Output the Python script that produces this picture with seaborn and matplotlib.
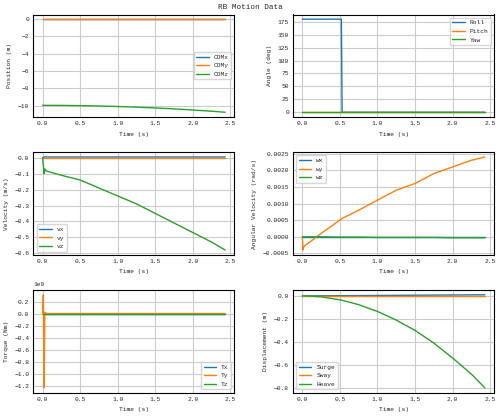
import matplotlib
matplotlib.use("Agg")
import matplotlib.pyplot as plt
from matplotlib.ticker import MaxNLocator
import seaborn as sns
import numpy as np
import pandas as pd

t = [0, 0.01, 0.02, 0.03, 0.04, 0.06, 0.1, 0.25, 0.5, 0.52, 0.53, 0.75, 1.0, 1.25, 1.5, 1.75, 2.0, 2.25, 2.43]
com_x = [0]*19
com_y = [0]*19
heave = [0, 0, 0, 0, 0, 0, -0.001, -0.008, -0.034, -0.036, -0.038, -0.076, -0.135, -0.21, -0.30, -0.41, -0.54, -0.68, -0.80]
com_z = [-9.95 + h for h in heave]
roll = [180]*10 + [0]*9
pitch = [0]*19
yaw = [0]*19
vx = [0, 0.002, 0.004, 0.005, 0.005, 0.005, 0.005, 0.005, 0.005, 0.005, 0.005, 0.005, 0.005, 0.005, 0.005, 0.005, 0.005, 0.005, 0.005]
vy = [0]*19
vz = [0, -0.05, -0.1, -0.07, -0.08, -0.085, -0.09, -0.11, -0.14, -0.145, -0.146, -0.19, -0.24, -0.29, -0.35, -0.41, -0.47, -0.53, -0.58]
wx = [0]*19
wy = [0, -0.0004, -0.0003, -0.00028, -0.00026, -0.00022, -0.00016, 0.0001, 0.0005, 0.00053, 0.00055, 0.0008, 0.0011, 0.0014, 0.0016, 0.0019, 0.0021, 0.0023, 0.0024]
wz = [0, 0, 0, 0, 0, 0, 0, 0, -0.00001, -0.00001, -0.00001, -0.00001, -0.00002, -0.00002, -0.00002, -0.00002, -0.00003, -0.00003, -0.00003]
tx = [0]*19
ty = [0, 0.32e9, -1.23e9, 0.03e9, 0.01e9, 0.01e9] + [0.008e9]*13
tz = [0]*19
surge = [0, 0, 0, 0, 0, 0, 0.0004, 0.001, 0.002, 0.002, 0.002, 0.003, 0.004, 0.005, 0.006, 0.007, 0.008, 0.009, 0.01]
sway = [0]*19

sns.set_style("whitegrid", {"axes.edgecolor": "black", "grid.color": "#cccccc"})
plt.rcParams['font.family'] = ['Liberation Mono', 'DejaVu Sans Mono']
plt.rcParams['font.size'] = 4.5

fig, axes = plt.subplots(3, 2, figsize=(5, 4.16), dpi=100)
fig.suptitle("RB Motion Data", fontsize=5.5, y=0.99)
pal = sns.color_palette("tab10")

panels = [
    (axes[0, 0], [("COMx", com_x), ("COMy", com_y), ("COMz", com_z)], "Position (m)", "center right"),
    (axes[0, 1], [("Roll", roll), ("Pitch", pitch), ("Yaw", yaw)], "Angle (deg)", "upper right"),
    (axes[1, 0], [("vx", vx), ("vy", vy), ("vz", vz)], "Velocity (m/s)", "lower left"),
    (axes[1, 1], [("wx", wx), ("wy", wy), ("wz", wz)], "Angular Velocity (rad/s)", "upper left"),
    (axes[2, 0], [("Tx", tx), ("Ty", ty), ("Tz", tz)], "Torque (Nm)", "lower right"),
    (axes[2, 1], [("Surge", surge), ("Sway", sway), ("Heave", heave)], "Displacement (m)", "lower left"),
]
for ax, series, ylab, loc in panels:
    for i, (name, vals) in enumerate(series):
        sns.lineplot(x=t, y=vals, ax=ax, color=pal[i], label=name, linewidth=1)
    ax.set_xlabel("Time (s)", fontsize=4.5)
    ax.set_ylabel(ylab, fontsize=4.5)
    ax.tick_params(labelsize=4.5, length=2, pad=1)
    ax.set_xticks([0, 0.5, 1.0, 1.5, 2.0, 2.5])
    ax.legend(loc=loc, fontsize=4.5)
    ax.yaxis.get_offset_text().set_fontsize(4.5)

axes[0, 1].set_yticks(range(0, 176, 25))
axes[1, 0].set_yticks([-0.6, -0.5, -0.4, -0.3, -0.2, -0.1, 0.0])
axes[2, 0].set_yticks([-1.2e9, -1.0e9, -0.8e9, -0.6e9, -0.4e9, -0.2e9, 0.0, 0.2e9])
axes[1, 1].yaxis.set_major_locator(MaxNLocator(7))
fig.tight_layout(pad=0.6, h_pad=1.2, w_pad=2.5)
fig.savefig("out.png", dpi=100)
